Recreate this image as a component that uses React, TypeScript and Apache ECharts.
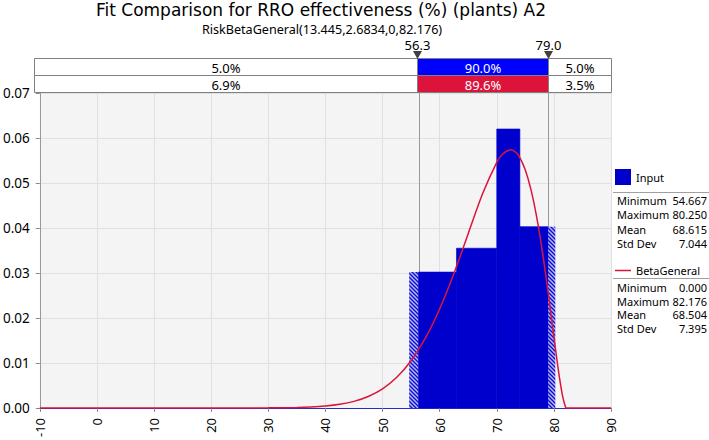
import React, { useEffect, useRef } from "react";
import * as echarts from "echarts";

const FONT = "'Noto Sans', 'DejaVu Sans', sans-serif";
const TITLE_FONT = "'DejaVu Sans', 'Noto Sans', sans-serif";

// Histogram of the input data (bin edges and density heights)
const binEdges = [54.667, 62.95, 70.0, 74.05, 80.25];
const binDensity = [0.0302, 0.0355, 0.062, 0.0403];

// Fitted BetaGeneral density
const fitX = [-10, 0, 10, 20, 25, 30, 35, 37.5, 40, 42.5, 45, 47.5, 50, 52.5, 55, 57.5, 60, 62.5, 65, 67.5, 70, 71, 72.5, 73.5, 74, 75, 76, 77, 78, 79, 79.5, 80, 80.5, 81, 81.5, 82, 82.176, 90];
const fitY = [0, 0, 0, 0, 0.000002, 0.0000167, 0.0000958, 0.000206, 0.000418, 0.000801, 0.001463, 0.00255, 0.004255, 0.006816, 0.010487, 0.0155, 0.02199, 0.02989, 0.03874, 0.04754, 0.05459, 0.05638, 0.05738, 0.05663, 0.05576, 0.0529, 0.04846, 0.04235, 0.03465, 0.02561, 0.02076, 0.01585, 0.01103, 0.00656, 0.00279, 0.00031, 0, 0];

// Delimiters and band percentages
const markers = [56.3, 79.0];
const bandEdges = [-10, 56.3, 79.0, 90];
const inputBand = [5.0, 90.0, 5.0];
const fitBand = [6.9, 89.6, 3.5];

// Axis settings
const xMin = -10, xMax = 90, xStep = 10;
const yMin = 0, yMax = 0.07, yStep = 0.01;

// Legend statistics
const statLabels = ["Minimum", "Maximum", "Mean", "Std Dev"];
const inputStats = ["54.667", "80.250", "68.615", "7.044"];
const fitStats = ["0.000", "82.176", "68.504", "7.395"];

const TITLE = "Fit Comparison for RRO effectiveness (%) (plants) A2";
const SUBTITLE = "RiskBetaGeneral(13.445,2.6834,0,82.176)";

function makeHatch(): HTMLCanvasElement {
  const c = document.createElement("canvas");
  c.width = 4;
  c.height = 4;
  const g = c.getContext("2d")!;
  g.fillStyle = "#b8b8ff";
  g.fillRect(0, 0, 4, 4);
  g.strokeStyle = "#1010c8";
  g.lineWidth = 1.4;
  g.beginPath();
  g.moveTo(0, 0); g.lineTo(4, 4);
  g.moveTo(-2, 2); g.lineTo(2, 6);
  g.moveTo(2, -2); g.lineTo(6, 2);
  g.stroke();
  return c;
}

export default function App() {
  const ref = useRef<HTMLDivElement>(null);

  useEffect(() => {
    if (!ref.current) return;
    const chart = echarts.init(ref.current, null, { renderer: "svg" });
    const hatchCanvas = makeHatch();
    const hatch: any = { image: hatchCanvas, repeat: "repeat", imageWidth: 4, imageHeight: 4 };

    const histData = binDensity.map((d, i) => [binEdges[i], binEdges[i + 1], d]);
    const bandData: number[][] = [];
    [inputBand, fitBand].forEach((row, r) => {
      row.forEach((_, j) => bandData.push([bandEdges[j], bandEdges[j + 1], r, j]));
    });

    const graphics: any[] = [
      { type: "text", x: 321, y: 10.4, style: { text: TITLE, fontSize: 17, fontFamily: TITLE_FONT, fill: "#000", align: "center", verticalAlign: "middle" } },
      { type: "text", x: 322, y: 29.2, style: { text: SUBTITLE, fontSize: 12.6, fontFamily: FONT, fill: "#000", align: "center", verticalAlign: "middle" } },
      { type: "line", shape: { x1: 613, y1: 192.5, x2: 709, y2: 192.5 }, style: { stroke: "#a0a0a0", lineWidth: 1 } },
      { type: "line", shape: { x1: 613, y1: 278.5, x2: 709, y2: 278.5 }, style: { stroke: "#a0a0a0", lineWidth: 1 } },
    ];
    statLabels.forEach((lab, i) => {
      const y1 = 200.5 + i * 14.3;
      const y2 = 287.7 + i * 13.6;
      graphics.push({ type: "text", x: 617, y: y1, style: { text: lab, fontSize: 11, fontFamily: FONT, fill: "#000", align: "left", verticalAlign: "middle" } });
      graphics.push({ type: "text", x: 707, y: y1, style: { text: inputStats[i], fontSize: 11, fontFamily: FONT, fill: "#000", align: "right", verticalAlign: "middle" } });
      graphics.push({ type: "text", x: 617, y: y2, style: { text: lab, fontSize: 11, fontFamily: FONT, fill: "#000", align: "left", verticalAlign: "middle" } });
      graphics.push({ type: "text", x: 707, y: y2, style: { text: fitStats[i], fontSize: 11, fontFamily: FONT, fill: "#000", align: "right", verticalAlign: "middle" } });
    });

    const option: any = {
      animation: false,
      backgroundColor: "#ffffff",
      legend: [
        {
          data: [{ name: "Input", icon: "rect" }],
          left: 615, top: 169, padding: 0, itemWidth: 16, itemHeight: 16,
          selectedMode: false,
          textStyle: { fontSize: 11, fontFamily: FONT, color: "#000" },
        },
        {
          data: [{ name: "BetaGeneral", icon: "rect" }],
          left: 615, top: 265, padding: 0, itemWidth: 16, itemHeight: 1.5,
          selectedMode: false,
          itemStyle: { color: "#dc143c", borderWidth: 0 },
          textStyle: { fontSize: 11, fontFamily: FONT, color: "#000" },
        },
      ],
      grid: [
        { left: 34, right: 98, top: 93, bottom: 29, show: true, backgroundColor: "#f4f4f4", borderWidth: 0 },
        { left: 34, right: 98, top: 58, height: 34 },
      ],
      xAxis: [
        {
          type: "value", gridIndex: 0, min: xMin, max: xMax, interval: xStep,
          axisLine: { show: true, onZero: false, lineStyle: { color: "#2a2ad0", width: 1 } },
          axisTick: { show: true, length: 4, lineStyle: { color: "#888" } },
          axisLabel: { rotate: 90, margin: 10, fontSize: 13, fontFamily: FONT, color: "#000" },
          splitLine: { show: true, lineStyle: { color: "#e0e0e0", width: 1 } },
        },
        { type: "value", gridIndex: 1, min: xMin, max: xMax, show: false },
      ],
      yAxis: [
        {
          type: "value", gridIndex: 0, min: yMin, max: yMax, interval: yStep,
          axisLine: { show: true, onZero: false, lineStyle: { color: "#999", width: 1 } },
          axisTick: { show: true, length: 4, lineStyle: { color: "#888" } },
          axisLabel: { margin: 10, fontSize: 13.5, fontFamily: FONT, color: "#000", formatter: (v: number) => v.toFixed(2) },
          splitLine: { show: true, lineStyle: { color: "#e0e0e0", width: 1 } },
        },
        { type: "value", gridIndex: 1, min: 0, max: 2, inverse: true, show: false },
      ],
      series: [
        {
          name: "delimiters",
          type: "custom",
          xAxisIndex: 0, yAxisIndex: 0, z: 1, silent: true,
          data: markers.map((m) => [m]),
          renderItem: (params: any, api: any) => {
            const x = api.value(0);
            const p0 = api.coord([x, yMin]);
            const p1 = api.coord([x, yMax]);
            return {
              type: "line",
              shape: { x1: Math.round(p0[0]) + 0.5, y1: p0[1], x2: Math.round(p0[0]) + 0.5, y2: p1[1] },
              style: { stroke: "#9a9a9a", lineWidth: 1 },
            };
          },
        },
        {
          name: "Input",
          type: "custom",
          xAxisIndex: 0, yAxisIndex: 0, z: 2,
          itemStyle: { color: "#0000cc" },
          encode: { x: [0, 1], y: 2 },
          data: histData,
          renderItem: (params: any, api: any) => {
            const x0 = api.value(0), x1 = api.value(1), h = api.value(2);
            const segs: [number, number, boolean][] = [
              [x0, Math.min(x1, markers[0]), true],
              [Math.max(x0, markers[0]), Math.min(x1, markers[1]), false],
              [Math.max(x0, markers[1]), x1, true],
            ];
            const children: any[] = [];
            segs.forEach(([a, b, hatched]) => {
              if (b <= a) return;
              const pa = api.coord([a, h]);
              const pb = api.coord([b, 0]);
              children.push({
                type: "rect",
                shape: { x: pa[0], y: pa[1], width: pb[0] - pa[0], height: pb[1] - pa[1] },
                style: { fill: hatched ? hatch : "#0000cc", stroke: hatched ? null : "#0000cc", lineWidth: 0.6 },
              });
            });
            return { type: "group", children };
          },
        },
        {
          name: "BetaGeneral",
          type: "line",
          xAxisIndex: 0, yAxisIndex: 0, z: 3,
          data: fitX.map((x, i) => [x, fitY[i]]),
          smooth: 0.3,
          symbol: "none",
          showSymbol: false,
          lineStyle: { color: "#dc143c", width: 1.5 },
          itemStyle: { color: "#dc143c" },
        },
        {
          name: "band",
          type: "custom",
          xAxisIndex: 1, yAxisIndex: 1, z: 4, silent: true,
          data: bandData,
          renderItem: (params: any, api: any) => {
            const x0 = api.value(0), x1 = api.value(1), r = api.value(2), j = api.value(3);
            const pa = api.coord([x0, r]);
            const pb = api.coord([x1, r + 1]);
            const vals = r === 0 ? inputBand : fitBand;
            const colored = j === 1;
            const fill = colored ? (r === 0 ? "#0000ff" : "#dc143c") : "#ffffff";
            const ax = Math.round(pa[0]) + 0.5, ay = Math.round(pa[1]) + 0.5;
            const bx = Math.round(pb[0]) + 0.5, by = Math.round(pb[1]) + 0.5;
            return {
              type: "group",
              children: [
                { type: "rect", shape: { x: ax, y: ay, width: bx - ax, height: by - ay }, style: { fill, stroke: "#808080", lineWidth: 1 } },
                {
                  type: "text", x: (ax + bx) / 2, y: (ay + by) / 2 + 0.5,
                  style: { text: vals[j].toFixed(1) + "%", fontSize: 13, fontFamily: FONT, fill: colored ? "#ffffff" : "#000", align: "center", verticalAlign: "middle" },
                },
              ],
            };
          },
        },
        {
          name: "markerLabels",
          type: "custom",
          xAxisIndex: 1, yAxisIndex: 1, z: 5, silent: true,
          data: markers.map((m) => [m, 0]),
          renderItem: (params: any, api: any) => {
            const x = api.value(0);
            const p = api.coord([x, 0]);
            const cx = Math.round(p[0]) + 0.5;
            return {
              type: "group",
              children: [
                { type: "polygon", shape: { points: [[cx - 4.5, p[1] - 7], [cx + 4.5, p[1] - 7], [cx, p[1] + 1]] }, style: { fill: "#404040" } },
                { type: "text", x: cx, y: p[1] - 13, style: { text: x.toFixed(1), fontSize: 13, fontFamily: FONT, fill: "#000", align: "center", verticalAlign: "middle" } },
              ],
            };
          },
        },
      ],
      graphic: graphics,
    };

    chart.setOption(option);
    return () => chart.dispose();
  }, []);

  return <div ref={ref} style={{ position: "fixed", left: 0, top: 0, width: 709, height: 440 }} />;
}
